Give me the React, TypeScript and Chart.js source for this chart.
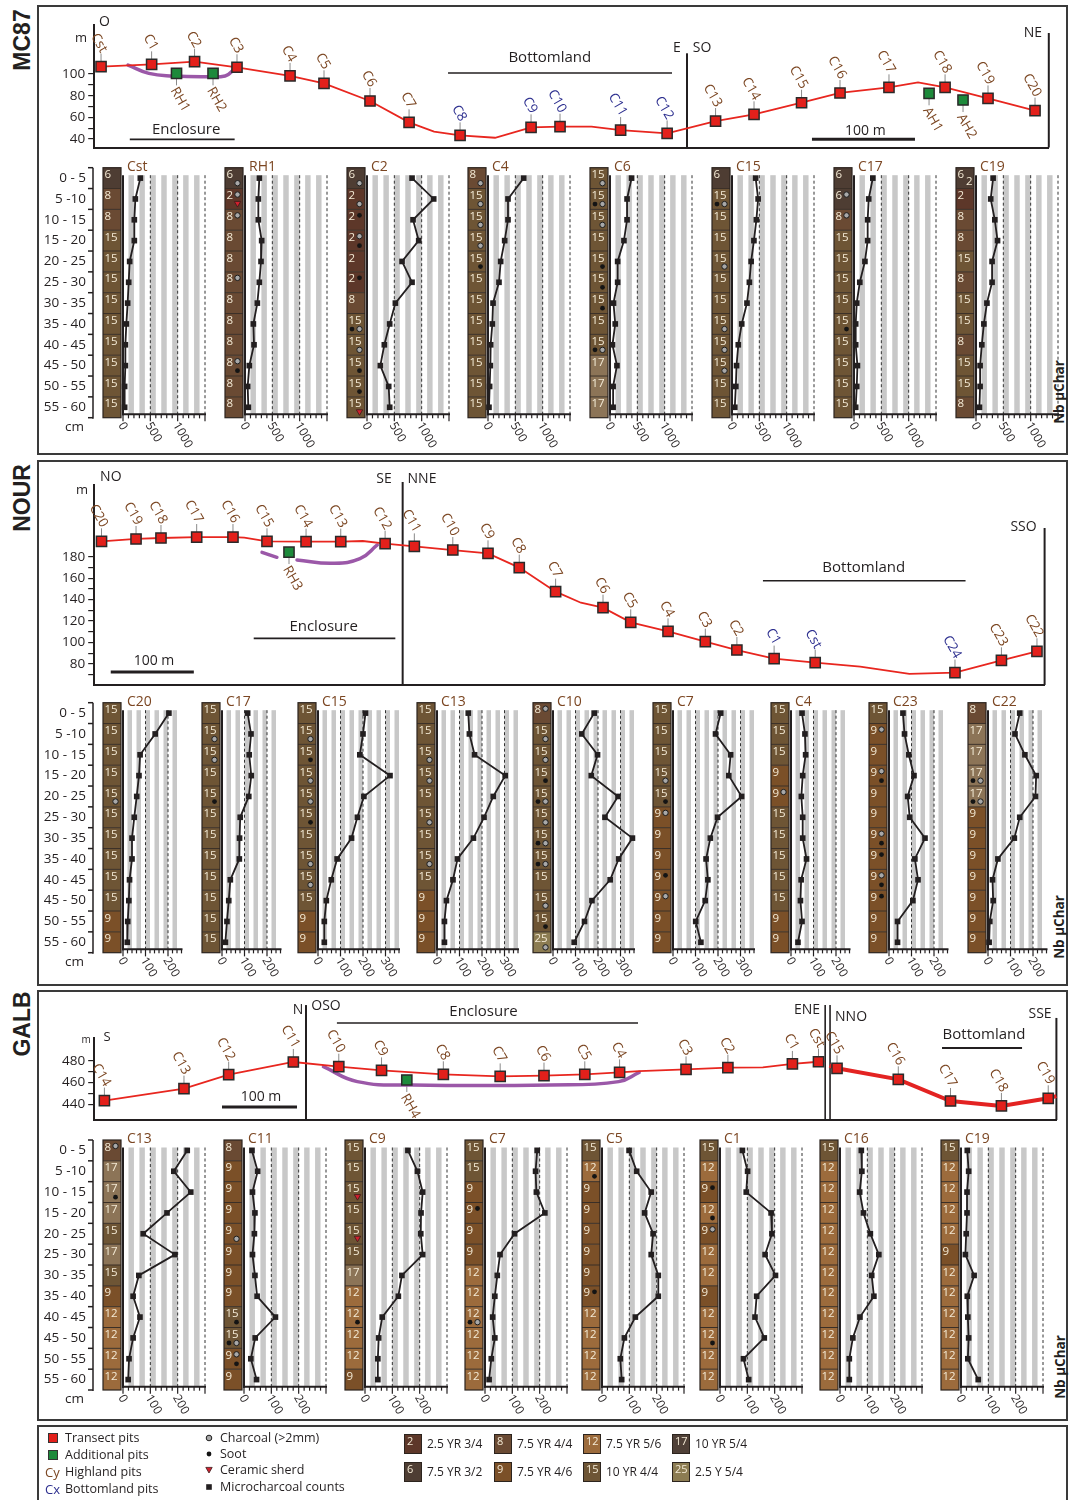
import React, { useEffect, useRef } from 'react';
import { Chart, registerables } from 'chart.js';

Chart.register(...registerables);

const FONT = '"Open Sans", "Noto Sans", "DejaVu Sans", sans-serif';
const INK = '#231f20';
const BROWN = '#7b4622';
const BLUE = '#2d2f8f';
const RED = '#e3201b';
const GREEN = '#1d8a3b';
const PURPLE = '#9b58a8';

// ---------------- depth intervals ----------------
const depthLabels = ['0 - 5', '5 -10', '10 - 15', '15 - 20', '20 - 25', '25 - 30', '30 - 35', '35 - 40', '40 - 45', '45 - 50', '50 - 55', '55 - 60'];
const depthMid = [2.5, 7.5, 12.5, 17.5, 22.5, 27.5, 32.5, 37.5, 42.5, 47.5, 52.5, 57.5];

// ---------------- MC87 transect ----------------
const mc87Pits = ['Cst', 'C1', 'C2', 'C3', 'C4', 'C5', 'C6', 'C7', 'C8', 'C9', 'C10', 'C11', 'C12', 'C13', 'C14', 'C15', 'C16', 'C17', 'C18', 'C19', 'C20'];
const mc87PitDist = [0, 49.6, 91.7, 133.3, 185.3, 218.6, 263.7, 302, 352, 421.6, 450, 509.4, 555, 602.5, 640.2, 686.8, 724.5, 772.5, 827.5, 869.6, 915.7];
const mc87PitElev = [106.8, 108.9, 111.4, 106.2, 98.2, 91.4, 75.1, 55.4, 43.4, 50.8, 51.4, 48.3, 45.2, 56.6, 62.8, 73.5, 82.5, 87.7, 87.7, 77.5, 66.2];
const mc87PitZone = ['H', 'H', 'H', 'H', 'H', 'H', 'H', 'H', 'B', 'B', 'B', 'B', 'B', 'H', 'H', 'H', 'H', 'H', 'H', 'H', 'H'];
const mc87Extra = ['RH1', 'RH2', 'AH1', 'AH2'];
const mc87ExtraDist = [74, 109.8, 811.8, 845.1];
const mc87ExtraElev = [100.6, 100.6, 82.2, 76];
const mc87LineDist = [0, 49.6, 91.7, 133.3, 185.3, 218.6, 263.7, 302, 326.5, 352, 386.3, 421.6, 450, 480.9, 509.4, 555, 602.5, 640.2, 686.8, 724.5, 772.5, 801, 827.5, 869.6, 915.7];
const mc87LineElev = [106.8, 108.9, 111.4, 106.2, 98.2, 91.4, 75.1, 55.4, 46.8, 43.4, 41.2, 50.8, 51.4, 51.4, 48.3, 45.2, 56.6, 62.8, 73.5, 82.5, 87.7, 92.3, 87.7, 77.5, 66.2];
const mc87EnclDist = [26.5, 46.9, 70.6, 104.6, 121.6, 129, 131.7];
const mc87EnclElev = [108.3, 100.6, 98.2, 97.5, 98.2, 103, 108.3];
const mc87YTicks = [40, 50, 60, 70, 80, 90, 100];
const mc87YLabels = [40, 60, 80, 100];

// ---------------- NOUR transect ----------------
const nourPits = ['C20', 'C19', 'C18', 'C17', 'C16', 'C15', 'C14', 'C13', 'C12', 'C11', 'C10', 'C9', 'C8', 'C7', 'C6', 'C5', 'C4', 'C3', 'C2', 'C1', 'Cst', 'C24', 'C23', 'C22'];
const nourPitDist = [0, 41.1, 70.8, 113.3, 156.5, 197, 243.5, 284.8, 337.6, 372.4, 418.2, 460.1, 497.3, 540.6, 597, 630, 674.4, 718.8, 756.4, 800.7, 849.6, 1016, 1071.3, 1113.6];
const nourPitElev = [194.3, 196.5, 197.4, 198.3, 198.3, 194.3, 194, 194, 192.1, 189.6, 186.2, 183.1, 169.8, 147.4, 132.5, 118.8, 110.4, 100.8, 93, 85, 81.2, 72, 83.4, 91.8];
const nourPitZone = ['H', 'H', 'H', 'H', 'H', 'H', 'H', 'H', 'H', 'H', 'H', 'H', 'H', 'H', 'H', 'H', 'H', 'H', 'H', 'B', 'B', 'B', 'H', 'H'];
const nourExtra = ['RH3'];
const nourExtraDist = [223.2];
const nourExtraElev = [184.3];
const nourLineDist = [0, 41.1, 70.8, 113.3, 156.5, 170, 197, 243.5, 284.8, 311, 337.6, 372.4, 418.2, 460.1, 497.3, 540.6, 570.7, 597, 630, 674.4, 718.8, 756.4, 800.7, 849.6, 903.2, 961.7, 1016, 1071.3, 1113.6];
const nourLineElev = [194.3, 196.5, 197.4, 198.3, 198.3, 197.8, 194.3, 194, 194, 194.6, 192.1, 189.6, 186.2, 183.1, 169.8, 147.4, 137.1, 132.5, 118.8, 110.4, 100.8, 93, 85, 81.2, 77.5, 70.7, 72, 83.4, 91.8];
const nourEnclDist = [191.1, 208.8, 220, 232.7, 274.8, 307.7, 328.3];
const nourEnclElev = [184, 179.4, null, 176.9, 173.8, 178.1, 190.9];
const nourYTicks = [70, 80, 90, 100, 110, 120, 130, 140, 150, 160, 170, 180];
const nourYLabels = [80, 100, 120, 140, 160, 180];

// ---------------- GALB transect ----------------
const galbPits = ['C14', 'C13', 'C12', 'C11', 'C10', 'C9', 'C8', 'C7', 'C6', 'C5', 'C4', 'C3', 'C2', 'C1', 'Cst', 'C15', 'C16', 'C17', 'C18', 'C19'];
const galbPitDist = [0, 106.1, 165.7, 251.9, 312.5, 369.5, 451.9, 527.7, 586.1, 640.5, 686.9, 775.5, 831.3, 917.3, 952.1, 976.8, 1058.5, 1128.1, 1196, 1258.4];
const galbPitElev = [443.4, 454.4, 467.2, 478.8, 474.5, 471.1, 467.5, 465.6, 466.3, 467.5, 469.3, 472, 473.6, 477, 479, 473, 462.9, 443, 438.5, 445.5];
const galbPitZone = galbPits.map(() => 'H');
const galbExtra = ['RH4'];
const galbExtraDist = [403.2];
const galbExtraElev = [462.3];
const galbLineDist = [0, 106.1, 165.7, 251.9, 312.5, 369.5, 451.9, 527.7, 586.1, 640.5, 686.9, 713, 775.5, 831.3, 877.9, 917.3, 952.1, 960.4];
const galbLineElev = [443.4, 454.4, 467.2, 478.8, 474.5, 471.1, 467.5, 465.6, 466.3, 467.5, 469.3, 470.5, 472, 473.6, 473.9, 477, 479, 479.3];
const galbLine2Dist = [966.7, 976.8, 1058.5, 1128.1, 1196, 1258.4, 1269.3];
const galbLine2Elev = [475.5, 473, 462.9, 443, 438.5, 445.5, 447.5];
const galbEnclDist = [292.1, 337.3, 410.7, 593.9, 685.6, 713];
const galbEnclElev = [474.5, 460.8, 457.7, 457.7, 460.8, 469.3];
const galbYTicks = [440, 450, 460, 470, 480];
const galbYLabels = [440, 460, 480];

// ---------------- Microcharcoal counts (Nb µChar) ----------------
const mc87Cst = [317, 226, 207, 207, 122, 104, 85, 61, 43, 43, 30, 30];
const mc87RH1 = [262, 244, 244, 305, 293, 262, 226, 153, 165, 79, 49, 61];
const mc87C2 = [824, 1220, 842, 946, 641, 824, 519, 415, 317, 244, 397, 415];
const mc87C4 = [653, 366, 366, 305, 232, 201, 92, 79, 49, 43, 30, 18];
const mc87C6 = [395, 312, 312, 255, 140, 140, 64, 96, 45, 127, 57, 57];
const mc87C15 = [433, 478, 446, 401, 350, 318, 274, 178, 115, 83, 70, 51];
const mc87C17 = [344, 269, 250, 250, 200, 106, 50, 31, 31, 63, 50, 31];
const mc87C19 = [313, 269, 344, 394, 294, 294, 200, 144, 106, 75, 75, 63];

const nourC20 = [204, 143, 76, 71, 61, 50, 40, 40, 29, 26, 21, 19];
const nourC17 = [114, 129, 121, 130, 119, 81, 78, 77, 37, 30, 22, 15];
const nourC15 = [211, 200, 186, 320, 204, 175, 149, 85, 59, 37, 28, 28];
const nourC13 = [139, 144, 167, 303, 250, 209, 162, 91, 71, 42, 33, 33];
const nourC10 = [183, 128, 198, 170, 289, 231, 353, 292, 254, 173, 140, 94];
const nourC7 = [212, 189, 256, 248, 305, 198, 166, 147, 155, 143, 101, 124];
const nourC4 = [49, 62, 65, 52, 46, 52, 52, 69, 45, 42, 49, 31];
const nourC23 = [62, 69, 88, 111, 83, 92, 160, 115, 129, 106, 38, 38];
const nourC22 = [141, 120, 164, 214, 211, 141, 117, 44, 20, 23, 8, 5];

const galbC13 = [235, 186, 248, 161, 74, 190, 58, 37, 62, 37, 22, 19];
const galbC11 = [29, 50, 31, 40, 38, 31, 40, 48, 115, 41, 25, 46];
const galbC9 = [157, 192, 211, 205, 204, 211, 135, 122, 63, 50, 47, 47];
const galbC7 = [191, 185, 188, 219, 108, 55, 45, 36, 28, 36, 23, 15];
const galbC5 = [99, 127, 180, 156, 187, 180, 206, 206, 122, 82, 67, 72];
const galbC1 = [82, 101, 96, 187, 190, 165, 203, 134, 128, 162, 86, 105];
const galbC16 = [78, 80, 72, 86, 111, 142, 116, 124, 73, 47, 34, 34];
const galbC19 = [23, 28, 22, 22, 19, 16, 48, 23, 25, 28, 25, 63];

// ---------------- Munsell soil colour codes per 5 cm ----------------
const mc87SoilCst = [6, 8, 8, 15, 15, 15, 15, 15, 15, 15, 15, 15];
const mc87SoilRH1 = [6, 2, 8, 8, 8, 8, 8, 8, 8, 8, 8, 8];
const mc87SoilC2 = [6, 2, 2, 2, 2, 2, 8, 15, 15, 15, 15, 15];
const mc87SoilC4 = [8, 15, 15, 15, 15, 15, 15, 15, 15, 15, 15, 15];
const mc87SoilC6 = [15, 15, 15, 15, 15, 15, 15, 15, 15, 17, 17, 17];
const mc87SoilC15 = [6, 15, 15, 15, 15, 15, 15, 15, 15, 15, 15, 15];
const mc87SoilC17 = [6, 6, 8, 15, 15, 15, 15, 15, 15, 15, 15, 15];
const mc87SoilC19 = ['6/2', 2, 8, 8, 15, 8, 15, 15, 8, 15, 15, 8];

const nourSoilC20 = [15, 15, 15, 15, 15, 15, 15, 15, 15, 15, 9, 9];
const nourSoilC17 = [15, 15, 15, 15, 15, 15, 15, 15, 15, 15, 15, 15];
const nourSoilC15 = [15, 15, 15, 15, 15, 15, 15, 15, 15, 15, 9, 9];
const nourSoilC13 = [15, 15, 15, 15, 15, 15, 15, 15, 15, 9, 9, 9];
const nourSoilC10 = [8, 15, 15, 15, 15, 15, 15, 15, 15, 15, 15, 25];
const nourSoilC7 = [15, 15, 15, 15, 15, 9, 9, 9, 9, 9, 9, 9];
const nourSoilC4 = [15, 15, 15, 9, 9, 15, 15, 15, 15, 15, 9, 9];
const nourSoilC23 = [15, 9, 9, 9, 9, 9, 9, 9, 9, 9, 9, 9];
const nourSoilC22 = [8, 17, 17, 17, 17, 9, 9, 9, 9, 9, 9, 9];

const galbSoilC13 = [8, 17, 17, 17, 15, 17, 15, 9, 12, 12, 12, 12];
const galbSoilC11 = [8, 9, 9, 9, 9, 9, 9, 9, 15, 15, 9, 9];
const galbSoilC9 = [15, 15, 15, 15, 15, 15, 17, 12, 12, 12, 12, 9];
const galbSoilC7 = [15, 15, 9, 9, 9, 9, 12, 12, 12, 12, 12, 12];
const galbSoilC5 = [15, 12, 9, 9, 9, 9, 9, 9, 12, 12, 12, 12];
const galbSoilC1 = [15, 12, 9, 12, 9, 12, 12, 9, 12, 12, 12, 12];
const galbSoilC16 = [15, 12, 12, 12, 12, 12, 12, 12, 12, 12, 12, 12];
const galbSoilC19 = [15, 12, 12, 12, 12, 9, 12, 12, 12, 12, 12, 12];

// finds per layer: "upper/lower", c = charcoal, s = soot, t = ceramic sherd
const mc87FindsCst = ['', '', '', '', '', '', '', '', '', '', '', ''];
const mc87FindsRH1 = ['/c', 'c/t', 'c/', '', '', 'c/', '', '', '', 'c/s', '', ''];
const mc87FindsC2 = ['/c', '/c', 's/', 'c/s', '', 's/', '', '/sc', '/c', '/s', '/s', '/t'];
const mc87FindsC4 = ['/c', '/c', '/c', '/c', '/s', '', '', '', '', '', '', ''];
const mc87FindsC6 = ['/c', '/sc', '/c', '', '/s', '/s', '/s', '', '/sc', '', '', ''];
const mc87FindsC15 = ['', '/sc', '', '', '/c', '', '', '/c', '/c', '/c', '', ''];
const mc87FindsC17 = ['', 'c/', 'c/', '', '', '', '', '/s', '', '', '', ''];
const mc87FindsC19 = ['', '', '', '', '', '', '', '', '', '', '', ''];

const nourFindsC20 = ['', '', '', '', '/c', '', '', '', '', '', '', ''];
const nourFindsC17 = ['', '/c', '/c', '', '/s', '', '', '', '', '', '', ''];
const nourFindsC15 = ['', '/c', '/s', '/c', '/c', '/s', '', '/c', '/c', '', '', ''];
const nourFindsC13 = ['', '', '/c', '/c', '', '/c', '', '/c', '', '', '', ''];
const nourFindsC10 = ['c/', '/c', '/c', '/s', '/sc', '/c', '/sc', '/sc', '', '/c', '/s', '/c'];
const nourFindsC7 = ['', '', '', '/c', '/s', 'c/', '', '', 's/', 'c/', '', ''];
const nourFindsC4 = ['', '', '', '', 'c/', '', '', '', '', '', '', ''];
const nourFindsC23 = ['', 'c/', '', 'c/s', '', '', 'c/s', 's/', 'c/s', 's/', '', ''];
const nourFindsC22 = ['', '', '', '/sc', '/sc', '', '', '', '', '', '', ''];

const galbFindsC13 = ['c/', '', '/s', '', '', '', '', '', '', '', '', ''];
const galbFindsC11 = ['', '', '', '', '/c', '', '', '', '/s', '/sc', 'c/s', ''];
const galbFindsC9 = ['', '', '/t', '', '/t', '', '', '', '/s', '', '', ''];
const galbFindsC7 = ['', '', '', 's/', '', '', '', '', '/sc', '', '', ''];
const galbFindsC5 = ['', '/s', '', '', '', '', '', 's/', '', '', '', ''];
const galbFindsC1 = ['', '', 's/', '/s', 'c/', '', '', '', '', '/s', '', ''];
const galbFindsC16 = ['', '', '', '', '', '', '', '', '', '', '', ''];
const galbFindsC19 = ['', '', '', '', '', '', '', '', '', '', '', ''];

// ---------------- legend ----------------
const legendPitLabels = ['Transect pits', 'Additional pits', 'Highland pits', 'Bottomland pits'];
const legendSymbolLabels = ['Charcoal (>2mm)', 'Soot', 'Ceramic sherd', 'Microcharcoal counts'];
const legendSoilCodes = ['2', '8', '12', '17', '6', '9', '15', '25'];
const legendSoilNames = ['2.5 YR 3/4', '7.5 YR 4/4', '7.5 YR 5/6', '10 YR 5/4', '7.5 YR 3/2', '7.5 YR 4/6', '10 YR 4/4', '2.5 Y 5/4'];

const SOIL_COLORS: Record<string, string> = {
  '2': '#5d3729',
  '6': '#4e3d33',
  '8': '#6a4a33',
  '9': '#7b5028',
  '12': '#9c6b3c',
  '15': '#6e5535',
  '17': '#8c7457',
  '25': '#8c7c52',
};
const LEGEND_SWATCH: Record<string, string> = { ...SOIL_COLORS, '17': '#4f4037' };

// ---------------- profile chart ----------------
const K = 62.5 / 15; // px per cm of depth
const Y_TOP = 1.8;
const Y_BOT = 59.2;

function drawMark(ctx: CanvasRenderingContext2D, kind: string, x: number, y: number) {
  if (kind === 'c') {
    ctx.beginPath();
    ctx.arc(x, y, 2.7, 0, Math.PI * 2);
    ctx.fillStyle = '#a8a8a8';
    ctx.fill();
    ctx.lineWidth = 1;
    ctx.strokeStyle = '#1e1e1e';
    ctx.stroke();
  } else if (kind === 's') {
    ctx.beginPath();
    ctx.arc(x, y, 2.4, 0, Math.PI * 2);
    ctx.fillStyle = '#141414';
    ctx.fill();
  } else if (kind === 't') {
    ctx.beginPath();
    ctx.moveTo(x - 3.2, y - 2.6);
    ctx.lineTo(x + 3.2, y - 2.6);
    ctx.lineTo(x, y + 3);
    ctx.closePath();
    ctx.fillStyle = '#d0202e';
    ctx.fill();
    ctx.lineWidth = 0.8;
    ctx.strokeStyle = '#3a1a1a';
    ctx.stroke();
  }
}

function drawMarkLine(ctx: CanvasRenderingContext2D, s: string | undefined, colL: number, y: number) {
  if (!s) return;
  if (s.length === 2) {
    drawMark(ctx, s[0], colL + 5, y);
    drawMark(ctx, s[1], colL + 12.5, y);
  } else {
    drawMark(ctx, s, colL + 12.5, y);
  }
}

type ProfileProps = {
  title: string;
  values: number[];
  soil: (number | string)[];
  finds: string[];
  axisX: number;
  depth0Y: number;
  xmax: number;
  major: number;
  minor: number;
  labelMax: number;
  ppu: number;
  showDepth?: boolean;
};

function ProfileChart(p: ProfileProps) {
  const ref = useRef<HTMLCanvasElement>(null);
  const W = p.xmax * p.ppu;
  const leftSpace = p.showDepth ? 100 : 26;
  const canvasLeft = p.axisX - leftSpace;
  const canvasTop = Math.round(p.depth0Y - 20);
  const topPad = p.depth0Y + Y_TOP * K - canvasTop;
  const plotH = (Y_BOT - Y_TOP) * K;
  const height = Math.ceil(topPad + plotH + 48);
  const width = Math.ceil(leftSpace + W + 14);

  useEffect(() => {
    const plugin = {
      id: 'profileDecor',
      beforeDatasetsDraw(chart: any) {
        const { ctx, chartArea: a } = chart;
        const x = chart.scales.x;
        const y = chart.scales.y;
        const x0 = x.getPixelForValue(0);
        const colL = x0 - 20;
        const colR = x0 - 2;
        ctx.save();
        // soil column
        for (let i = 0; i < 12; i++) {
          const t = y.getPixelForValue(5 * i);
          const b = y.getPixelForValue(5 * i + 5);
          const parts = String(p.soil[i]).split('/');
          const code = parts[0];
          ctx.fillStyle = SOIL_COLORS[code] || '#6e5535';
          ctx.fillRect(colL, t, colR - colL, b - t);
          ctx.fillStyle = '#f4ead5';
          ctx.font = `11.5px ${FONT}`;
          ctx.textAlign = 'left';
          ctx.textBaseline = 'top';
          ctx.fillText(code, colL + 1.5, t + 1.5);
          if (parts[1]) {
            ctx.textAlign = 'right';
            ctx.textBaseline = 'bottom';
            ctx.fillText(parts[1], colR - 1.5, b - 1);
          }
          const f = (p.finds[i] || '').split('/');
          drawMarkLine(ctx, f[0], colL, t + 6);
          drawMarkLine(ctx, f[1], colL, t + 15.5);
          if (i > 0) {
            ctx.strokeStyle = '#3a2f27';
            ctx.lineWidth = 1;
            ctx.beginPath();
            ctx.moveTo(colL, t);
            ctx.lineTo(colR, t);
            ctx.stroke();
          }
        }
        ctx.strokeStyle = '#2c241e';
        ctx.lineWidth = 1.2;
        const cTop = y.getPixelForValue(0);
        const cBot = y.getPixelForValue(60);
        ctx.strokeRect(colL, cTop, colR - colL, cBot - cTop);
        // stripes
        ctx.fillStyle = '#c8c8c8';
        for (let v = 0, i = 0; v < p.xmax - 1e-6; v += p.minor, i++) {
          if (i % 2 === 1) {
            const l = x.getPixelForValue(v);
            const r = x.getPixelForValue(Math.min(v + p.minor, p.xmax));
            ctx.fillRect(l, a.top, r - l, a.bottom - a.top);
          }
        }
        // dashed major lines
        ctx.setLineDash([3, 2.5]);
        ctx.strokeStyle = '#333';
        ctx.lineWidth = 1;
        for (let v = p.major; v <= p.xmax + 1e-6; v += p.major) {
          const px = x.getPixelForValue(v);
          ctx.beginPath();
          ctx.moveTo(px, a.top);
          ctx.lineTo(px, a.bottom);
          ctx.stroke();
        }
        ctx.setLineDash([]);
        // axes
        ctx.strokeStyle = INK;
        ctx.lineWidth = 2;
        ctx.beginPath();
        ctx.moveTo(x0, a.top);
        ctx.lineTo(x0, a.bottom + 1);
        ctx.stroke();
        ctx.beginPath();
        ctx.moveTo(x0 - 1, a.bottom);
        ctx.lineTo(x.getPixelForValue(p.xmax) + 1, a.bottom);
        ctx.stroke();
        ctx.lineWidth = 1.2;
        for (let v = 0; v <= p.xmax + 1e-6; v += p.minor) {
          const px = x.getPixelForValue(v);
          const isMajor = Math.abs(v / p.major - Math.round(v / p.major)) < 1e-6;
          ctx.beginPath();
          ctx.moveTo(px, a.bottom);
          ctx.lineTo(px, a.bottom + (isMajor ? 7 : 4));
          ctx.stroke();
        }
        // rotated tick labels
        ctx.fillStyle = INK;
        ctx.font = `12px ${FONT}`;
        ctx.textAlign = 'left';
        ctx.textBaseline = 'middle';
        for (let v = 0; v <= p.labelMax + 1e-6; v += p.major) {
          ctx.save();
          ctx.translate(x.getPixelForValue(v) - 2, a.bottom + 9);
          ctx.rotate(Math.PI / 3);
          ctx.fillText(String(v), 0, 0);
          ctx.restore();
        }
        // title
        ctx.fillStyle = BROWN;
        ctx.font = `14px ${FONT}`;
        ctx.textAlign = 'left';
        ctx.textBaseline = 'middle';
        ctx.fillText(p.title, x0 + 4, cTop - 1);
        // depth axis
        if (p.showDepth) {
          const ax = colL - 10;
          ctx.strokeStyle = INK;
          ctx.lineWidth = 1.5;
          ctx.beginPath();
          ctx.moveTo(ax, cTop);
          ctx.lineTo(ax, cBot + 1);
          ctx.stroke();
          for (let i = 0; i <= 12; i++) {
            const ty = y.getPixelForValue(5 * i);
            ctx.beginPath();
            ctx.moveTo(ax, ty);
            ctx.lineTo(ax - 5, ty);
            ctx.stroke();
          }
          ctx.fillStyle = INK;
          ctx.font = `13.5px ${FONT}`;
          ctx.textAlign = 'right';
          ctx.textBaseline = 'middle';
          depthLabels.forEach((lab, i) => ctx.fillText(lab, ax - 7, y.getPixelForValue(depthMid[i])));
          ctx.fillText('cm', ax - 9, cBot + 9);
        }
        ctx.restore();
      },
    };
    const chart = new Chart(ref.current as HTMLCanvasElement, {
      type: 'line',
      data: {
        datasets: [
          {
            data: p.values.map((v, i) => ({ x: v, y: depthMid[i] })),
            borderColor: INK,
            borderWidth: 1.8,
            pointStyle: 'rect',
            pointRadius: 4,
            pointBackgroundColor: INK,
            pointBorderWidth: 0,
            clip: false,
          } as any,
        ],
      },
      options: {
        animation: false,
        responsive: false,
        events: [],
        layout: { padding: { left: leftSpace, top: topPad, right: width - leftSpace - W, bottom: height - topPad - plotH } },
        scales: {
          x: { type: 'linear', min: 0, max: p.xmax, display: false },
          y: { type: 'linear', min: Y_TOP, max: Y_BOT, reverse: true, display: false },
        },
        plugins: { legend: { display: false }, tooltip: { enabled: false } },
      } as any,
      plugins: [plugin],
    });
    return () => chart.destroy();
  }, []);

  return (
    <canvas
      ref={ref}
      width={width}
      height={height}
      style={{ position: 'absolute', left: canvasLeft, top: canvasTop, width, height }}
    />
  );
}

// ---------------- transect chart ----------------
type Note = { t: string; x: number; y: number; s?: number };
type Bar = { x1: number; x2: number; y: number; w?: number };
type VLine = { x: number; y: number; w?: number };

type TransectCfg = {
  box: { left: number; top: number; width: number; height: number };
  area: { left: number; top: number; right: number; bottom: number };
  xMin: number; xMax: number; yMin: number; yMax: number;
  yTicks: number[]; yLabels: number[];
  pits: string[]; pitDist: number[]; pitElev: number[]; pitZone: string[];
  extra: string[]; extraDist: number[]; extraElev: number[];
  lineDist: number[]; lineElev: number[];
  line2Dist?: number[]; line2Elev?: number[];
  enclDist: number[]; enclElev: (number | null)[];
  notes: Note[]; bars: Bar[]; vlines: VLine[];
};

function Transect({ cfg }: { cfg: TransectCfg }) {
  const ref = useRef<HTMLCanvasElement>(null);
  const { box, area } = cfg;
  useEffect(() => {
    const plugin = {
      id: 'transectDecor',
      beforeDatasetsDraw(chart: any) {
        const { ctx, chartArea: a } = chart;
        const x = chart.scales.x;
        const y = chart.scales.y;
        ctx.save();
        cfg.vlines.forEach((v) => {
          const px = x.getPixelForValue(v.x);
          ctx.strokeStyle = INK;
          ctx.lineWidth = v.w || 2;
          ctx.beginPath();
          ctx.moveTo(px, y.getPixelForValue(v.y));
          ctx.lineTo(px, a.bottom);
          ctx.stroke();
        });
        cfg.bars.forEach((b) => {
          const py = y.getPixelForValue(b.y);
          ctx.strokeStyle = INK;
          ctx.lineWidth = b.w || 1.6;
          ctx.beginPath();
          ctx.moveTo(x.getPixelForValue(b.x1), py);
          ctx.lineTo(x.getPixelForValue(b.x2), py);
          ctx.stroke();
        });
        cfg.notes.forEach((n) => {
          ctx.font = `${n.s || 14}px ${FONT}`;
          ctx.fillStyle = INK;
          ctx.textAlign = 'center';
          ctx.textBaseline = 'middle';
          ctx.fillText(n.t, x.getPixelForValue(n.x), y.getPixelForValue(n.y));
        });
        const label = (name: string, d: number, e: number, color: string, below: boolean) => {
          const px = x.getPixelForValue(d);
          const py = y.getPixelForValue(e);
          ctx.strokeStyle = '#8a8a8a';
          ctx.lineWidth = 1;
          ctx.beginPath();
          if (below) {
            ctx.moveTo(px, py + 4);
            ctx.lineTo(px, py + 12);
          } else {
            ctx.moveTo(px, py - 4);
            ctx.lineTo(px, py - 13);
          }
          ctx.stroke();
          ctx.save();
          ctx.translate(below ? px - 3 : px + 3, below ? py + 15 : py - 15);
          ctx.rotate(Math.PI / 3);
          ctx.font = `13.5px ${FONT}`;
          ctx.fillStyle = color;
          ctx.textAlign = below ? 'left' : 'right';
          ctx.textBaseline = 'middle';
          ctx.fillText(name, 0, 0);
          ctx.restore();
        };
        cfg.pits.forEach((n, i) => label(n, cfg.pitDist[i], cfg.pitElev[i], cfg.pitZone[i] === 'B' ? BLUE : BROWN, false));
        cfg.extra.forEach((n, i) => label(n, cfg.extraDist[i], cfg.extraElev[i], BROWN, true));
        ctx.restore();
      },
    };
    const datasets: any[] = [
      {
        data: cfg.pitDist.map((d, i) => ({ x: d, y: cfg.pitElev[i] })),
        showLine: false, pointStyle: 'rect', pointRadius: 7.2,
        pointBackgroundColor: RED, pointBorderColor: '#2a2a2a', pointBorderWidth: 1.5,
        clip: false, order: 0,
      },
      {
        data: cfg.extraDist.map((d, i) => ({ x: d, y: cfg.extraElev[i] })),
        showLine: false, pointStyle: 'rect', pointRadius: 7.2,
        pointBackgroundColor: GREEN, pointBorderColor: '#2a2a2a', pointBorderWidth: 1.5,
        clip: false, order: 1,
      },
      {
        data: cfg.lineDist.map((d, i) => ({ x: d, y: cfg.lineElev[i] })),
        borderColor: '#e8261f', borderWidth: 1.8, pointRadius: 0, order: 2, clip: false,
      },
      {
        data: cfg.enclDist.map((d, i) => ({ x: d, y: cfg.enclElev[i] })),
        borderColor: PURPLE, borderWidth: 3.5, tension: 0.45, pointRadius: 0,
        spanGaps: false, order: 4, borderCapStyle: 'round', clip: false,
      },
    ];
    if (cfg.line2Dist && cfg.line2Elev) {
      const e2 = cfg.line2Elev;
      datasets.push({
        data: cfg.line2Dist.map((d, i) => ({ x: d, y: e2[i] })),
        borderColor: '#e32322', borderWidth: 4, pointRadius: 0, order: 3, clip: false,
      });
    }
    const chart = new Chart(ref.current as HTMLCanvasElement, {
      type: 'line',
      data: { datasets },
      options: {
        animation: false,
        responsive: false,
        events: [],
        layout: {
          padding: {
            left: area.left - box.left - 44,
            top: area.top - box.top,
            right: box.left + box.width - area.right,
            bottom: box.top + box.height - area.bottom,
          },
        },
        scales: {
          x: {
            type: 'linear', min: cfg.xMin, max: cfg.xMax,
            ticks: { display: false },
            grid: { display: false, drawTicks: false },
            border: { display: true, color: INK, width: 2 },
            afterFit: (s: any) => { s.height = 0; s.paddingLeft = 0; s.paddingRight = 0; },
          },
          y: {
            type: 'linear', min: cfg.yMin, max: cfg.yMax, position: 'left',
            afterFit: (s: any) => { s.width = 44; s.paddingTop = 0; s.paddingBottom = 0; },
            afterBuildTicks: (s: any) => { s.ticks = cfg.yTicks.map((v) => ({ value: v })); },
            ticks: {
              callback: (v: any) => (cfg.yLabels.includes(Number(v)) ? String(v) : ''),
              font: { family: FONT, size: 13.5 }, color: INK, padding: 3, autoSkip: false, maxRotation: 0,
            },
            grid: { drawOnChartArea: false, drawTicks: true, tickLength: 6, color: INK, lineWidth: 1.2 },
            border: { display: true, color: INK, width: 2 },
          },
        },
        plugins: { legend: { display: false }, tooltip: { enabled: false } },
      } as any,
      plugins: [plugin],
    });
    return () => chart.destroy();
  }, []);
  return (
    <canvas
      ref={ref}
      width={box.width}
      height={box.height}
      style={{ position: 'absolute', left: box.left, top: box.top, width: box.width, height: box.height }}
    />
  );
}

// ---------------- configurations ----------------
const mc87Cfg: TransectCfg = {
  box: { left: 40, top: 8, width: 1026, height: 158 },
  area: { left: 94.2, top: 25, right: 1048.8, bottom: 147.5 },
  xMin: -6.7, xMax: 929.2, yMin: 32.2, yMax: 145.2,
  yTicks: mc87YTicks, yLabels: mc87YLabels,
  pits: mc87Pits, pitDist: mc87PitDist, pitElev: mc87PitElev, pitZone: mc87PitZone,
  extra: mc87Extra, extraDist: mc87ExtraDist, extraElev: mc87ExtraElev,
  lineDist: mc87LineDist, lineElev: mc87LineElev,
  enclDist: mc87EnclDist, enclElev: mc87EnclElev,
  notes: [
    { t: 'O', x: 3.4, y: 148, s: 14 },
    { t: 'm', x: -19.6, y: 133, s: 13 },
    { t: 'Enclosure', x: 83.5, y: 48.9, s: 15 },
    { t: 'Bottomland', x: 440, y: 114.8, s: 15 },
    { t: '100 m', x: 749.4, y: 47.4, s: 14 },
    { t: 'E', x: 564.5, y: 123.7, s: 14 },
    { t: 'SO', x: 589.2, y: 123.7, s: 14 },
    { t: 'NE', x: 913.7, y: 137.6, s: 14 },
  ],
  bars: [
    { x1: 28.2, x2: 131, y: 39.7 },
    { x1: 340.2, x2: 559.8, y: 100.9 },
    { x1: 697, x2: 798, y: 39.7, w: 3 },
  ],
  vlines: [
    { x: 574.5, y: 119.1 },
    { x: 929.2, y: 137.8 },
  ],
};

const nourCfg: TransectCfg = {
  box: { left: 40, top: 463, width: 1026, height: 240 },
  area: { left: 94.2, top: 485, right: 1044.6, bottom: 685 },
  xMin: -8.7, xMax: 1122.7, yMin: 60.4, yMax: 246.8,
  yTicks: nourYTicks, yLabels: nourYLabels,
  pits: nourPits, pitDist: nourPitDist, pitElev: nourPitElev, pitZone: nourPitZone,
  extra: nourExtra, extraDist: nourExtraDist, extraElev: nourExtraElev,
  lineDist: nourLineDist, lineElev: nourLineElev,
  enclDist: nourEnclDist, enclElev: nourEnclElev,
  notes: [
    { t: 'NO', x: 11.1, y: 254.6, s: 14 },
    { t: 'm', x: -23.2, y: 242, s: 13 },
    { t: 'SE', x: 336.3, y: 252.4, s: 14 },
    { t: 'NNE', x: 381.5, y: 252.4, s: 14 },
    { t: 'SSO', x: 1097.6, y: 207.7, s: 14 },
    { t: 'Enclosure', x: 264.4, y: 114.8, s: 15 },
    { t: 'Bottomland', x: 907.4, y: 170, s: 15 },
    { t: '100 m', x: 62.5, y: 82.8, s: 14 },
  ],
  bars: [
    { x1: 181.2, x2: 349.8, y: 103.9 },
    { x1: 787.4, x2: 1028.6, y: 157.6 },
    { x1: 11, x2: 109.9, y: 72.5, w: 3 },
  ],
  vlines: [
    { x: 358.5, y: 249.6 },
    { x: 1122.7, y: 206.7 },
  ],
};

const galbCfg: TransectCfg = {
  box: { left: 40, top: 993, width: 1026, height: 150 },
  area: { left: 94.2, top: 1038, right: 1056.4, bottom: 1120 },
  xMin: -13.6, xMax: 1269.3, yMin: 425.6, yMax: 500.8,
  yTicks: galbYTicks, yLabels: galbYLabels,
  pits: galbPits, pitDist: galbPitDist, pitElev: galbPitElev, pitZone: galbPitZone,
  extra: galbExtra, extraDist: galbExtraDist, extraElev: galbExtraElev,
  lineDist: galbLineDist, lineElev: galbLineElev,
  line2Dist: galbLine2Dist, line2Elev: galbLine2Elev,
  enclDist: galbEnclDist, enclElev: galbEnclElev,
  notes: [
    { t: 'S', x: 3.5, y: 501.7, s: 13 },
    { t: 'm', x: -24.5, y: 499, s: 10 },
    { t: 'N', x: 258, y: 526.5, s: 14 },
    { t: 'OSO', x: 295.5, y: 530.2, s: 14 },
    { t: 'ENE', x: 936.8, y: 526.5, s: 14 },
    { t: 'NNO', x: 995.5, y: 520, s: 14 },
    { t: 'SSE', x: 1247.5, y: 522.8, s: 14 },
    { t: 'Enclosure', x: 505.5, y: 524.7, s: 15 },
    { t: 'Bottomland', x: 1172.8, y: 503.6, s: 15 },
    { t: '100 m', x: 208.8, y: 446.7, s: 14 },
  ],
  bars: [
    { x1: 310, x2: 711.5, y: 514.6 },
    { x1: 1116.8, x2: 1223.5, y: 491.7, w: 2 },
    { x1: 156.8, x2: 256.8, y: 437.5, w: 3 },
  ],
  vlines: [
    { x: 268.8, y: 531 },
    { x: 961, y: 531, w: 1.6 },
    { x: 967.5, y: 531, w: 1.6 },
    { x: 1269.3, y: 519.2 },
  ],
};

// profile layouts
const mc87AxisX = [123, 245, 367, 488, 610, 732, 854, 976];
const nourAxisX = [123, 222, 318, 437, 553, 673, 791, 889, 988];
const galbAxisX = [123, 244, 365, 485, 602, 720, 840, 961];

const mc87Profiles = [
  { title: 'Cst', values: mc87Cst, soil: mc87SoilCst, finds: mc87FindsCst },
  { title: 'RH1', values: mc87RH1, soil: mc87SoilRH1, finds: mc87FindsRH1 },
  { title: 'C2', values: mc87C2, soil: mc87SoilC2, finds: mc87FindsC2 },
  { title: 'C4', values: mc87C4, soil: mc87SoilC4, finds: mc87FindsC4 },
  { title: 'C6', values: mc87C6, soil: mc87SoilC6, finds: mc87FindsC6 },
  { title: 'C15', values: mc87C15, soil: mc87SoilC15, finds: mc87FindsC15 },
  { title: 'C17', values: mc87C17, soil: mc87SoilC17, finds: mc87FindsC17 },
  { title: 'C19', values: mc87C19, soil: mc87SoilC19, finds: mc87FindsC19 },
];
const nourRanges = [260, 260, 360, 360, 360, 360, 260, 260, 260];
const nourProfiles = [
  { title: 'C20', values: nourC20, soil: nourSoilC20, finds: nourFindsC20 },
  { title: 'C17', values: nourC17, soil: nourSoilC17, finds: nourFindsC17 },
  { title: 'C15', values: nourC15, soil: nourSoilC15, finds: nourFindsC15 },
  { title: 'C13', values: nourC13, soil: nourSoilC13, finds: nourFindsC13 },
  { title: 'C10', values: nourC10, soil: nourSoilC10, finds: nourFindsC10 },
  { title: 'C7', values: nourC7, soil: nourSoilC7, finds: nourFindsC7 },
  { title: 'C4', values: nourC4, soil: nourSoilC4, finds: nourFindsC4 },
  { title: 'C23', values: nourC23, soil: nourSoilC23, finds: nourFindsC23 },
  { title: 'C22', values: nourC22, soil: nourSoilC22, finds: nourFindsC22 },
];
const galbProfiles = [
  { title: 'C13', values: galbC13, soil: galbSoilC13, finds: galbFindsC13 },
  { title: 'C11', values: galbC11, soil: galbSoilC11, finds: galbFindsC11 },
  { title: 'C9', values: galbC9, soil: galbSoilC9, finds: galbFindsC9 },
  { title: 'C7', values: galbC7, soil: galbSoilC7, finds: galbFindsC7 },
  { title: 'C5', values: galbC5, soil: galbSoilC5, finds: galbFindsC5 },
  { title: 'C1', values: galbC1, soil: galbSoilC1, finds: galbFindsC1 },
  { title: 'C16', values: galbC16, soil: galbSoilC16, finds: galbFindsC16 },
  { title: 'C19', values: galbC19, soil: galbSoilC19, finds: galbFindsC19 },
];

// ---------------- page pieces ----------------
function Frame({ top, height }: { top: number; height: number }) {
  return (
    <div style={{ position: 'absolute', left: 37, top, width: 1031, height, border: '2px solid #3a3a3a', boxSizing: 'border-box' }} />
  );
}

function VText({ x, y, text, size, bold = true }: { x: number; y: number; text: string; size: number; bold?: boolean }) {
  return (
    <div
      style={{
        position: 'absolute', left: x, top: y, transform: 'translate(-50%, -50%) rotate(-90deg)',
        whiteSpace: 'nowrap', fontWeight: bold ? 700 : 400, fontSize: size, lineHeight: 1,
        fontFamily: size > 16 ? '"Liberation Sans", Arial, sans-serif' : FONT, color: INK,
      }}
    >
      {text}
    </div>
  );
}

function LText({ x, y, children, color = INK, size = 12.5 }: any) {
  return (
    <div style={{ position: 'absolute', left: x, top: y - 9, height: 18, lineHeight: '18px', fontSize: size, color, whiteSpace: 'nowrap' }}>
      {children}
    </div>
  );
}

function Legend() {
  const rowY = [1438, 1455, 1472, 1489];
  const symY = [1438, 1454, 1470, 1487];
  return (
    <div>
      <div style={{ position: 'absolute', left: 37, top: 1425, width: 1031, height: 82, border: '2px solid #3a3a3a', boxSizing: 'border-box' }} />
      <div style={{ position: 'absolute', left: 48, top: rowY[0] - 5, width: 10, height: 10, background: RED, border: '1px solid #333', boxSizing: 'border-box' }} />
      <div style={{ position: 'absolute', left: 48, top: rowY[1] - 5, width: 10, height: 10, background: GREEN, border: '1px solid #333', boxSizing: 'border-box' }} />
      <LText x={45} y={rowY[2]} color={BROWN} size={13}>Cy</LText>
      <LText x={45} y={rowY[3]} color={BLUE} size={13}>Cx</LText>
      {legendPitLabels.map((t, i) => (
        <LText key={t} x={65} y={rowY[i]}>{t}</LText>
      ))}
      <svg style={{ position: 'absolute', left: 200, top: 1428, width: 18, height: 70 }} width={18} height={70}>
        <circle cx={9} cy={symY[0] - 1428} r={2.8} fill="#a8a8a8" stroke="#1e1e1e" strokeWidth={1} />
        <circle cx={9} cy={symY[1] - 1428} r={2.4} fill="#141414" />
        <polygon points={`5.8,${symY[2] - 1428 - 2.6} 12.2,${symY[2] - 1428 - 2.6} 9,${symY[2] - 1428 + 3}`} fill="#d0202e" stroke="#3a1a1a" strokeWidth={0.8} />
        <rect x={6.2} y={symY[3] - 1428 - 2.8} width={5.6} height={5.6} fill={INK} />
      </svg>
      {legendSymbolLabels.map((t, i) => (
        <LText key={t} x={220} y={symY[i]}>{t}</LText>
      ))}
      {legendSoilCodes.map((c, i) => {
        const col = i % 4;
        const row = Math.floor(i / 4);
        const left = [404, 494, 583, 672][col];
        const top = row === 0 ? 1434 : 1462;
        return (
          <React.Fragment key={c}>
            <div style={{ position: 'absolute', left, top, width: 18, height: 20, background: LEGEND_SWATCH[c], boxSizing: 'border-box', border: '1px solid #2c241e' }}>
              <span style={{ position: 'absolute', left: 2, top: 0, fontSize: 11, lineHeight: '12px', color: '#f4ead5' }}>{c}</span>
            </div>
            <LText x={left + 23} y={top + 10} size={12}>{legendSoilNames[i]}</LText>
          </React.Fragment>
        );
      })}
    </div>
  );
}

export default function App() {
  useEffect(() => {
    document.body.style.margin = '0';
  }, []);
  return (
    <div style={{ position: 'absolute', left: 0, top: 0, width: 1078, height: 1500, overflow: 'hidden', background: '#fff', fontFamily: FONT, color: INK }}>
      <Frame top={5} height={450} />
      <Frame top={460} height={526} />
      <Frame top={990} height={431} />
      <VText x={22} y={40} text="MC87" size={23} />
      <VText x={22} y={498} text="NOUR" size={23} />
      <VText x={22} y={1024} text="GALB" size={23} />
      <VText x={1060} y={392} text="Nb µChar" size={13.5} />
      <VText x={1060} y={927} text="Nb µChar" size={13.5} />
      <VText x={1061} y={1367} text="Nb µChar" size={13.5} />

      <Transect cfg={mc87Cfg} />
      <Transect cfg={nourCfg} />
      <Transect cfg={galbCfg} />

      {mc87Profiles.map((p, i) => (
        <ProfileChart key={'m' + p.title} {...p} axisX={mc87AxisX[i]} depth0Y={167.7} xmax={1500} major={500} minor={100} labelMax={1000} ppu={82 / 1500} showDepth={i === 0} />
      ))}
      {nourProfiles.map((p, i) => (
        <ProfileChart key={'n' + p.title} {...p} axisX={nourAxisX[i]} depth0Y={702.7} xmax={nourRanges[i]} major={100} minor={20} labelMax={nourRanges[i] > 300 ? 300 : 200} ppu={0.225} showDepth={i === 0} />
      ))}
      {galbProfiles.map((p, i) => (
        <ProfileChart key={'g' + p.title} {...p} axisX={galbAxisX[i]} depth0Y={1140} xmax={300} major={100} minor={20} labelMax={200} ppu={82 / 300} showDepth={i === 0} />
      ))}
      <Legend />
    </div>
  );
}
